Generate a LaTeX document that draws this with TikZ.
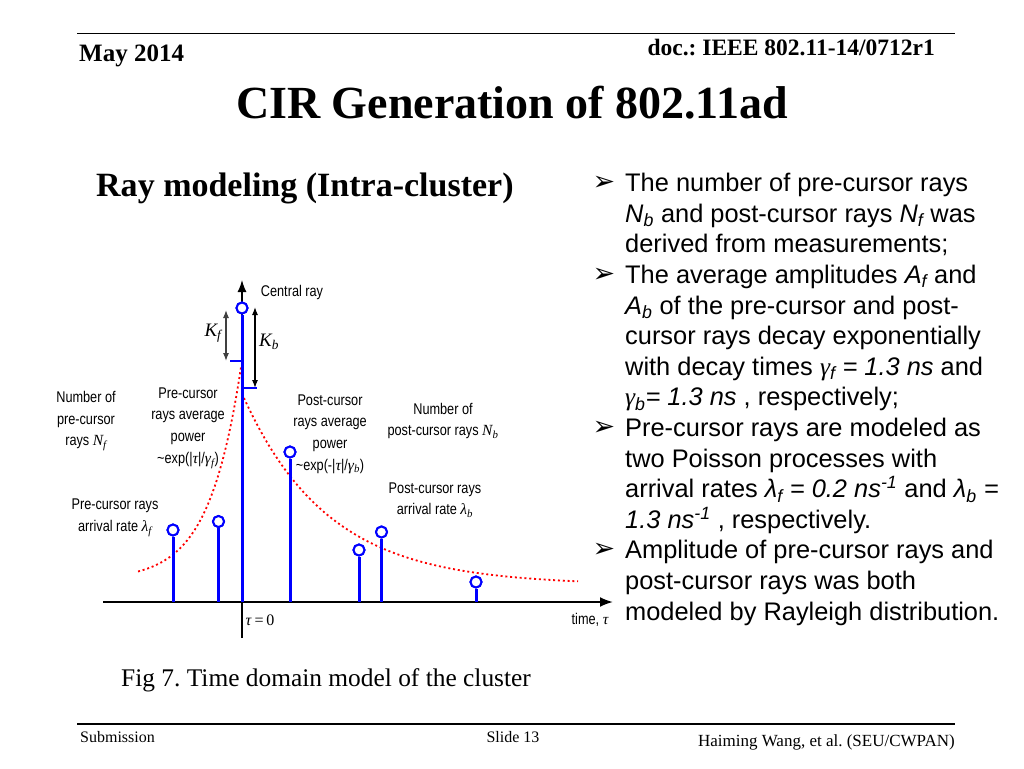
\documentclass[tikz,border=0pt]{standalone}
\usepackage{fontspec}
\setmainfont{Liberation Serif}
\newfontfamily\sansf{Liberation Sans}
\newfontfamily\narrowf[FakeStretch=0.82]{Liberation Sans}
\newfontfamily\serif{Liberation Serif}
\newfontfamily\dvs{DejaVu Sans}
\usetikzlibrary{arrows.meta}
\newcommand\setfs[1]{\fontsize{#1}{#1}\selectfont}
\newcommand\mysub[1]{\textsubscript{\itshape #1}}
\newcommand\gk[1]{{\serif\itshape #1}}
\begin{document}
\frenchspacing
\begin{tikzpicture}[x=1pt,y=-1pt,
  every node/.style={inner sep=0pt},
  raystem/.style={blue, line width=3pt},
  tipc/.style={circle, draw=blue, fill=white, line width=2pt, inner sep=0pt, minimum size=11pt},
  decay/.style={red, line width=1.8pt, dash pattern=on 2pt off 2.8pt},
  lbl/.style={font=\narrowf\fontsize{15.5}{21.7}\selectfont, align=center},
  kl/.style={font=\serif\itshape\setfs{19}},
  bul/.style={font=\dvs\setfs{27}, anchor=center},
  btxt/.style={font=\sansf\setfs{25.4}, anchor=base west},
  rule/.style={line width=1.5pt}]
\useasboundingbox[fill=white] (0,0) rectangle (1024,768);

% header
\coordinate (tl) at (77,33.5); \coordinate (tr) at (955,33.5);
\draw[rule] (tl) -- (tr);
\node[anchor=base west, font=\bfseries\setfs{25}] (date) at (79,61) {May 2014};
\node[anchor=base east, font=\bfseries\setfs{23.5}] (doc) at (935,56) {doc.: IEEE 802.11-14/0712r1};
\node[anchor=base, font=\bfseries\setfs{46}] (title) at (512,118) {CIR Generation of 802.11ad};
\node[anchor=base west, font=\bfseries\setfs{34}] (sub) at (96,196) {Ray modeling (Intra-cluster)};

% footer
\coordinate (bl) at (77,724); \coordinate (br) at (955,724);
\draw[rule] (bl) -- (br);
\node[anchor=base west, font=\setfs{16}] (subm) at (80,742) {Submission};
\node[anchor=base, font=\setfs{16}] (slide) at (513,742) {Slide 13};
\node[anchor=base east, font=\setfs{17}] (auth) at (955,746) {Haiming Wang, et al. (SEU/CWPAN)};

% caption
\node[anchor=base west, font=\setfs{25.4}] (cap) at (121,686) {Fig 7. Time domain model of the cluster};

% axes
\coordinate (ax0) at (103,602); \coordinate (ax1) at (613,602);
\draw[line width=2pt, -{Latex[length=13pt,width=10pt]}] (ax0) -- (ax1);
\coordinate (vb) at (242,638); \coordinate (vt) at (242,280);
\draw[line width=1.3pt, -{Latex[length=12pt,width=9pt]}] (vb) -- (vt);

% decay curves
\draw[decay] plot[domain=138:241, samples=60] (\x, {580-213*exp((\x-241)/32)});
\draw[decay] plot[domain=244:578, samples=80] (\x, {585-187*exp(-(\x-244)/85)});

% rays
\foreach \n/\x/\y in {0/242/308, 1/173/530, 2/218.5/521.5, 3/290/452, 4/359/550, 5/381.5/532, 6/476/582}{
  \coordinate (b\n) at (\x,602);
  \node[tipc] (p\n) at (\x,\y) {};
  \draw[raystem] (b\n) -- (p\n.south);
}
\foreach \n in {0,...,6}{ \node[tipc] at (p\n) {}; }

% K arrows
\coordinate (kf1) at (226,310); \coordinate (kf2) at (226,361);
\draw[black!75, line width=1.2pt, {Latex[length=8pt,width=6pt]}-{Latex[length=8pt,width=6pt]}] (kf1) -- (kf2);
\coordinate (kb1) at (255,307); \coordinate (kb2) at (255,388);
\draw[line width=1.2pt, {Latex[length=8pt,width=6pt]}-{Latex[length=8pt,width=6pt]}] (kb1) -- (kb2);
\coordinate (tf1) at (230,361); \coordinate (tf2) at (242,361);
\draw[blue, line width=2.5pt] (tf1) -- (tf2);
\coordinate (tb1) at (242,388); \coordinate (tb2) at (257,388);
\draw[blue, line width=2.5pt] (tb1) -- (tb2);
\node[kl] (Kf) at (213,333) {K\mysub{f}};
\node[kl] (Kb) at (269,342) {K\mysub{b}};

% labels
\node[lbl] (cr) at (292,292) {Central ray};
\node[lbl] (nf) at (86,421) {Number of\\pre-cursor\\rays \gk{N}\textsubscript{\gk{f}}};
\node[lbl] (pa) at (188,428) {Pre-cursor\\rays average\\power\\\textasciitilde exp(|\gk{τ}|/\gk{γ}\textsubscript{\gk{f}})};
\node[lbl] (qa) at (330,434) {Post-cursor\\rays average\\power\\\textasciitilde exp(-|\gk{τ}|/\gk{γ}\textsubscript{\gk{b}})};
\node[lbl] (nb) at (443,421) {Number of\\post-cursor rays \gk{N}\textsubscript{\gk{b}}};
\node[lbl] (lb) at (435,500) {Post-cursor rays\\arrival rate \gk{λ}\textsubscript{\gk{b}}};
\node[lbl] (lf) at (115,518) {Pre-cursor rays\\arrival rate \gk{λ}\textsubscript{\gk{f}}};
\node[font=\serif\setfs{16}] (t0) at (260,620) {\textit{τ}\,=\,0};
\node[lbl] (tm) at (590,620) {time, \gk{τ}};

% bullet text
\foreach \yy in {191.7, 283.5, 436.5, 558.9}{ \node[bul] at (604,\yy-8.5) {➢}; }
\node[btxt] (l0) at (625,191.7) {The number of pre-cursor rays};
\node[btxt] (l1) at (625,222.3) {\textit{N}\mysub{b} and post-cursor rays \textit{N}\mysub{f} was};
\node[btxt] (l2) at (625,252.9) {derived from measurements;};
\node[btxt] (l3) at (625,283.5) {The average amplitudes \textit{A}\mysub{f} and};
\node[btxt] (l4) at (625,314.1) {\textit{A}\mysub{b} of the pre-cursor and post-};
\node[btxt] (l5) at (625,344.7) {cursor rays decay exponentially};
\node[btxt] (l6) at (625,375.3) {with decay times \gk{γ}\mysub{f}\textit{ = 1.3 ns} and};
\node[btxt] (l7) at (625,405.9) {\gk{γ}\mysub{b}\textit{= 1.3 ns} , respectively;};
\node[btxt] (l8) at (625,436.5) {Pre-cursor rays are modeled as};
\node[btxt] (l9) at (625,467.1) {two Poisson processes with};
\node[btxt] (l10) at (625,497.7) {arrival rates \textit{λ\mysub{f} = 0.2 ns\textsuperscript{-1}} and \textit{λ\mysub{b} =}};
\node[btxt] (l11) at (625,528.3) {\textit{1.3 ns\textsuperscript{-1}} , respectively.};
\node[btxt] (l12) at (625,558.9) {Amplitude of pre-cursor rays and};
\node[btxt] (l13) at (625,589.5) {post-cursor rays was both};
\node[btxt] (l14) at (625,620.1) {modeled by Rayleigh distribution.};
\end{tikzpicture}
\end{document}
